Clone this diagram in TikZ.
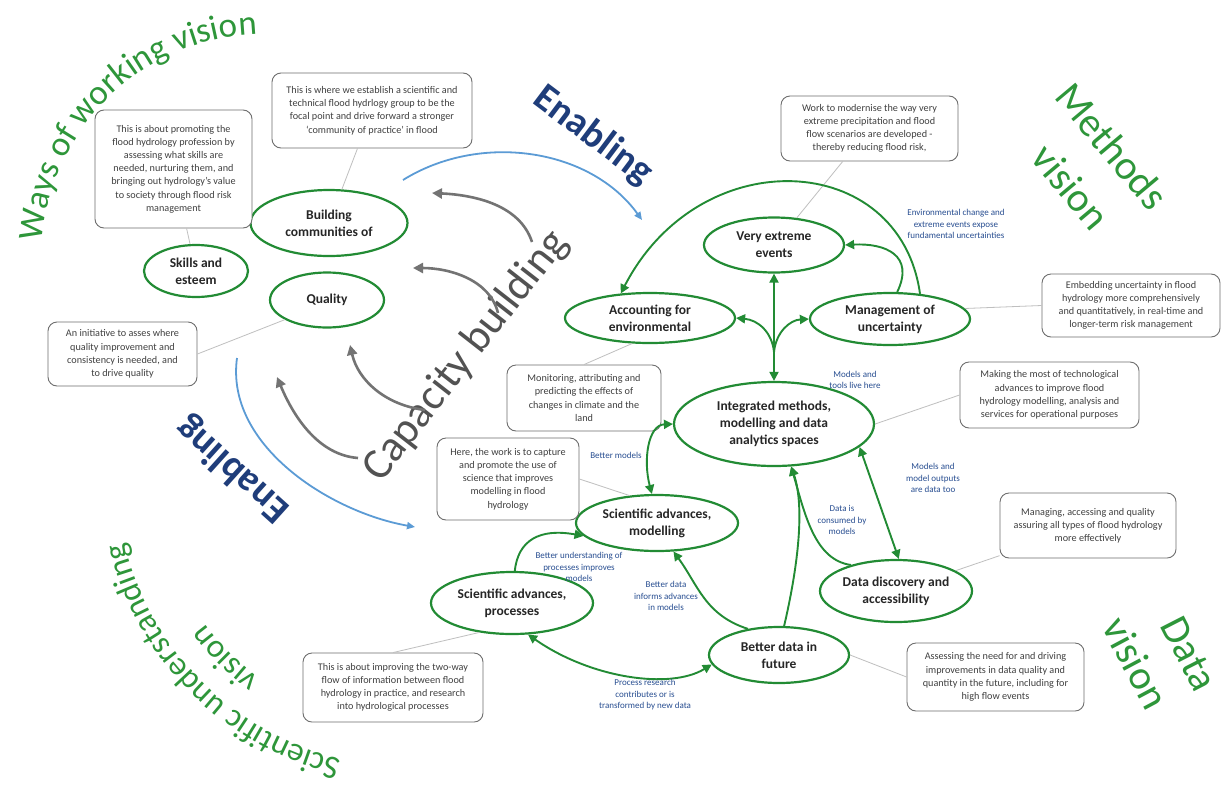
\documentclass[tikz,border=0pt]{standalone}
\usepackage{fontspec}
\setmainfont{Carlito}
\usetikzlibrary{arrows.meta,decorations.text,shapes.geometric}
\definecolor{egreen}{RGB}{34,139,52}
\definecolor{vgreen}{RGB}{46,150,58}
\definecolor{navy}{RGB}{31,61,122}
\definecolor{lblue}{RGB}{91,155,213}
\definecolor{lblt}{RGB}{40,78,145}
\definecolor{boxgray}{RGB}{110,110,110}
\definecolor{capgray}{RGB}{82,82,82}
\definecolor{arrgray}{RGB}{115,115,115}
\begin{document}
\begin{tikzpicture}[x=1pt,y=1pt,
  ell/.style={ellipse, draw=egreen, line width=2.2pt, fill=white, inner sep=0pt},
  etext/.style={align=center, inner sep=0pt, font=\fontsize{13.5}{17}\selectfont\bfseries, text=black!85},
  box/.style={rectangle, draw=boxgray, line width=0.9pt, rounded corners=9pt, fill=white, align=center, inner sep=0pt, font=\fontsize{10.2}{13.2}\selectfont, text=black!75},
  conn/.style={draw=gray!50, line width=0.8pt},
  garr/.style={draw=egreen, line width=1.9pt, -{Triangle[length=9pt,width=9pt]}},
  garrb/.style={draw=egreen, line width=1.9pt, {Triangle[length=9pt,width=9pt]}-{Triangle[length=9pt,width=9pt]}},
  lbl/.style={text=lblt, align=center, inner sep=0pt, font=\fontsize{9}{11.5}\selectfont},
  barr/.style={draw=lblue, line width=1.8pt, -{Triangle[length=8pt,width=7pt]}},
  carr/.style={draw=arrgray, line width=2.6pt, -{Triangle[length=10pt,width=10pt]}},
  vis/.style={text=vgreen, inner sep=0pt, font=\fontsize{41}{41}\selectfont},
  enab/.style={text=navy, inner sep=0pt, font=\fontsize{39}{39}\selectfont\bfseries}
]
\fill[white] (0,0) rectangle (1222,-790);
\useasboundingbox (0,0) rectangle (1222,-790);

% ---- vision titles ----
\path[decorate, decoration={text along path, text align=center,
  text={|\fontsize{35}{35}\selectfont\color{vgreen}|Ways of working vision}}]
  (265,-257) ++(180:223) arc[start angle=180, end angle=88, radius=223];
\path[decorate, decoration={text along path, text align=center,
  text={|\fontsize{33}{33}\selectfont\color{vgreen}|Scientific understanding}}]
  (408,-476) ++(262:291) arc[start angle=262, end angle=188, radius=291];
\path[decorate, decoration={text along path, text align=center,
  text={|\fontsize{33}{33}\selectfont\color{vgreen}|vision}}]
  (408,-476) ++(242:251) arc[start angle=242, end angle=208, radius=251];
\node[vis, rotate=-50] (tmeth) at (1112,-146) {Methods};
\node[vis, rotate=-50] (tmvis) at (1071,-187) {vision};
\node[vis, rotate=-63] (tdata) at (1189,-654) {Data};
\node[vis, rotate=-62] (tdvis) at (1136,-663) {vision};

\node[enab, rotate=-37] (en1) at (593,-136) {Enabling};
\node[enab, rotate=138] (en2) at (233,-469) {Enabling};
\node[text=capgray, inner sep=0pt, font=\fontsize{44}{44}\selectfont, rotate=52] (cap) at (466,-356) {Capacity building};

% ---- blue enabling arcs ----
\coordinate (ba1) at (403,-180); \coordinate (ba2) at (642,-220);
\draw[barr] (ba1) .. controls (480,-132) and (590,-148) .. (ba2);
\coordinate (bb1) at (237,-358); \coordinate (bb2) at (415,-527);
\draw[barr] (bb1) .. controls (225,-445) and (330,-512) .. (bb2);

% ---- grey capacity arrows ----
\coordinate (c1s) at (532,-242); \coordinate (c1e) at (432,-193);
\coordinate (c2s) at (498,-313); \coordinate (c2e) at (413,-268);
\coordinate (c3s) at (425,-410); \coordinate (c3e) at (350,-345);
\coordinate (c4s) at (358,-458); \coordinate (c4e) at (277,-377);
\draw[carr] (c1s) .. controls (520,-205) and (475,-195) .. (c1e);
\draw[carr] (c2s) .. controls (490,-280) and (450,-268) .. (c2e);
\draw[carr] (c3s) .. controls (385,-405) and (358,-380) .. (c3e);
\draw[carr] (c4s) .. controls (320,-455) and (295,-420) .. (c4e);

% ---- ellipses ----
\node[ell, minimum width=157pt, minimum height=66pt, label={[etext]center:Building\\communities of}] (bc) at (329,-223) {};
\node[ell, minimum width=104pt, minimum height=52pt, label={[etext]center:Skills and\\esteem}] (se) at (196,-271) {};
\node[ell, minimum width=114pt, minimum height=55pt, label={[etext]center:Quality}] (qu) at (327,-300) {};
\node[ell, minimum width=140pt, minimum height=55pt, label={[etext]center:Very extreme\\events}] (ve) at (774,-245) {};
\node[ell, minimum width=170pt, minimum height=50pt, label={[etext]center:Accounting for\\environmental}] (ae) at (650,-318) {};
\node[ell, minimum width=160pt, minimum height=52pt, label={[etext]center:Management of\\uncertainty}] (mu) at (890,-319) {};
\node[ell, minimum width=200pt, minimum height=84pt, label={[etext]center:Integrated methods,\\modelling and data\\analytics spaces}] (im) at (774,-424) {};
\node[ell, minimum width=162pt, minimum height=56pt, label={[etext]center:Scientific advances,\\modelling}] (sm) at (657,-523) {};
\node[ell, minimum width=162pt, minimum height=62pt, label={[etext]center:Scientific advances,\\processes}] (sp) at (512,-603) {};
\node[ell, minimum width=140pt, minimum height=56pt, label={[etext]center:Better data in\\future}] (bd) at (779,-655) {};
\node[ell, minimum width=152pt, minimum height=62pt, label={[etext]center:Data discovery and\\accessibility}] (dd) at (896,-591) {};

% ---- text boxes ----
\node[box, minimum width=157pt, minimum height=118pt] (b1) at (173.5,-169) {This is about promoting the\\flood hydrology profession by\\assessing what skills are\\needed, nurturing them, and\\bringing out hydrology's value\\to society through flood risk\\management};
\node[box, minimum width=200pt, minimum height=75pt] (b2) at (372,-110.5) {This is where we establish a scientific and\\technical flood hydrlogy group to be the\\focal point and drive forward a stronger\\`community of practice' in flood};
\node[box, minimum width=149pt, minimum height=64pt] (b3) at (122.5,-354) {An initiative to asses where\\quality improvement and\\consistency is needed, and\\to drive quality};
\node[box, minimum width=177pt, minimum height=65pt] (b4) at (869.5,-128.5) {Work to modernise the way very\\extreme precipitation and flood\\flow scenarios are developed -\\thereby reducing flood risk,};
\node[box, minimum width=178pt, minimum height=63pt] (b5) at (1131,-305.5) {Embedding uncertainty in flood\\hydrology more comprehensively\\and quantitatively, in real-time and\\longer-term risk management};
\node[box, minimum width=154pt, minimum height=66pt] (b6) at (584,-398) {Monitoring, attributing and\\predicting the effects of\\changes in climate and the\\land};
\node[box, minimum width=142pt, minimum height=82pt] (b7) at (508,-479) {Here, the work is to capture\\and promote the use of\\science that improves\\modelling in flood\\hydrology};
\node[box, minimum width=179pt, minimum height=66pt] (b8) at (1049.5,-395) {Making the most of technological\\advances to improve flood\\hydrology modelling, analysis and\\services for operational purposes};
\node[box, minimum width=176pt, minimum height=65pt] (b9) at (1088,-525.5) {Managing, accessing and quality\\assuring all types of flood hydrology\\more effectively};
\node[box, minimum width=180pt, minimum height=69pt] (b10) at (393,-687.5) {This is about improving the two-way\\flow of information between flood\\hydrology in practice, and research\\into hydrological processes};
\node[box, minimum width=177pt, minimum height=68pt] (b11) at (995.5,-677) {Assessing the need for and driving\\improvements in data quality and\\quantity in the future, including for\\high flow events};

% ---- grey connector lines ----
\draw[conn] (b1) -- (se);
\draw[conn] (b2) -- (bc);
\draw[conn] (b3.east) -- (qu.205);
\draw[conn] (b4) -- (ve.50);
\draw[conn] (b5.west) -- (mu.8);
\draw[conn] (b6.north) -- (ae.235);
\draw[conn] (b7.east) -- (sm.135);
\draw[conn] (b8.west) -- (im.east);
\draw[conn] (b9) -- (dd);
\draw[conn] (b10.north) -- (sp.222);
\draw[conn] (b11.west) -- (bd.east);

% ---- green arrows ----
\draw[garr] (mu.40) .. controls (900,-150) and (700,-140) .. (ae.140);
\draw[garr] (mu.75) .. controls (915,-255) and (885,-243) .. (ve.east);
\draw[garrb] (im.north) -- (ve.south);
\coordinate (hub) at (774,-352);
\draw[garr] (hub) .. controls (772,-332) and (758,-320) .. (ae.east);
\draw[garr] (hub) .. controls (776,-332) and (790,-320) .. (mu.west);
\draw[garrb] (im.west) .. controls (648,-425) and (643,-460) .. (sm.100);
\draw[garrb] (im.-15) -- (dd.85);
\draw[garr] (bd.80) .. controls (796,-575) and (806,-510) .. (im.292);
\draw[garr] (dd.150) .. controls (815,-560) and (805,-515) .. (im.292);
\draw[garr] (bd.140) .. controls (705,-615) and (698,-585) .. (sm.300);
\draw[garr] (sp.85) .. controls (518,-540) and (540,-528) .. (sm.190);
\draw[garrb] (sp.297) .. controls (590,-678) and (670,-690) .. (bd.188);

% ---- blue labels ----
\node[lbl] (l1) at (956,-224) {Environmental change and\\extreme events expose\\fundamental uncertainties};
\node[lbl] (l2) at (855,-380) {Models and\\tools live here};
\node[lbl] (l3) at (616,-455) {Better models};
\node[lbl] (l4) at (933,-478) {Models and\\model outputs\\are data too};
\node[lbl] (l5) at (842,-520) {Data is\\consumed by\\models};
\node[lbl] (l6) at (579,-567) {Better understanding of\\processes improves\\models};
\node[lbl] (l7) at (666,-596) {Better data\\informs advances\\in models};
\node[lbl] (l8) at (645,-695) {Process research\\contributes or is\\transformed by new data};
\end{tikzpicture}
\end{document}
